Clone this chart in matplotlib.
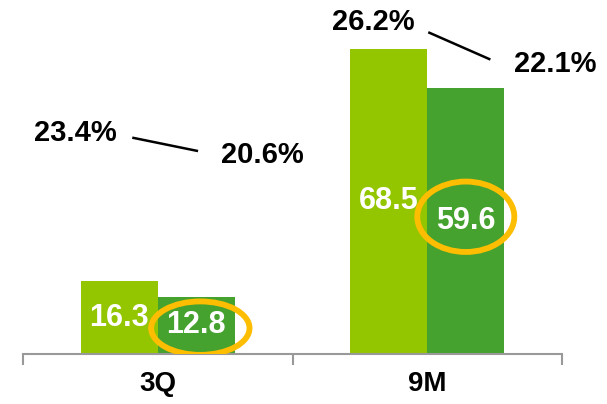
import matplotlib
matplotlib.use("Agg")
import matplotlib.pyplot as plt
from matplotlib.patches import Ellipse

plt.rcParams['font.family'] = ['Liberation Sans', 'DejaVu Sans']

# Sales (left bar = prior year, right bar = current year) and margins
periods = ["3Q", "9M"]
prior = [16.3, 68.5]
current = [12.8, 59.6]
margin_prior = ["23.4%", "26.2%"]
margin_current = ["20.6%", "22.1%"]

light = "#94c600"
dark = "#46a22e"
gold = "#fdbd00"

fig = plt.figure(figsize=(6.07, 4.04), dpi=100)
ax = fig.add_axes([23/607, 50/404, 539/607, 352/404])

w = 0.286
x = range(len(periods))
ax.bar([i - w/2 for i in x], prior, w, color=light)
ax.bar([i + w/2 for i in x], current, w, color=dark)
ax.set_xlim(-0.5, 1.5)
ax.set_ylim(0, 79)

for i in x:
    ax.text(i - w/2, prior[i]/2, f"{prior[i]}", color="white", fontsize=22,
            fontweight="bold", ha="center", va="center")
    ax.text(i + w/2, current[i]/2, f"{current[i]}", color="white", fontsize=22,
            fontweight="bold", ha="center", va="center")

# highlight rings round the current-year values
ax.add_patch(Ellipse((0 + w/2 + 0.015, current[0]/2 - 0.6), 0.365, 12.0,
                     fill=False, ec=gold, lw=4.2, zorder=5))
ax.add_patch(Ellipse((1 + w/2, current[1]/2 + 1.0), 0.36, 15.8,
                     fill=False, ec=gold, lw=4.2, zorder=5))

# margin labels with a sloping connector
lab_pos = [((-0.305, 49.6), (0.39, 44.6), (-0.09, 48.5), (0.145, 45.6)),
           ((0.80, 74.6), (1.475, 65.1), (1.008, 72.1), (1.23, 66.2))]
for i in x:
    (x1, y1), (x2, y2), (lx1, ly1), (lx2, ly2) = lab_pos[i]
    ax.text(x1, y1, margin_prior[i], fontsize=21, fontweight="bold",
            ha="center", va="center", clip_on=False)
    ax.text(x2, y2, margin_current[i], fontsize=21, fontweight="bold",
            ha="center", va="center", clip_on=False)
    ax.plot([lx1, lx2], [ly1, ly2], color="black", lw=1.8, clip_on=False)

for s in ["top", "right", "left"]:
    ax.spines[s].set_visible(False)
ax.spines["bottom"].set_color("#999999")
ax.spines["bottom"].set_linewidth(1.5)
ax.set_yticks([])
ax.set_xticks([-0.5, 0.5, 1.5])
ax.set_xticklabels([])
ax.tick_params(axis="x", length=8, width=1.5, color="#999999", direction="out")
for i, p in enumerate(periods):
    ax.text(i, -6.7, p, fontsize=20, fontweight="bold", ha="center", va="center")

fig.savefig("out.png", dpi=100)
